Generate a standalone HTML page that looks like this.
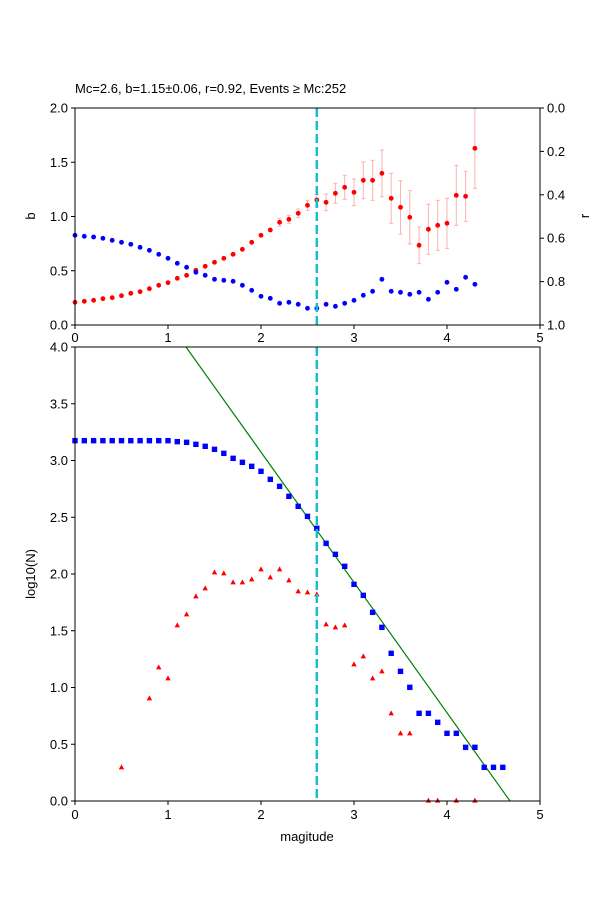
<!DOCTYPE html>
<html><head><style>body{margin:0;background:#fff}svg{font-family:"Liberation Sans","DejaVu Sans",sans-serif}</style></head>
<body>
<svg id="s" width="600" height="900" xmlns="http://www.w3.org/2000/svg">
<rect width="600" height="900" fill="#fff"/>
<text x="75" y="93" font-size="13">Mc=2.6, b=1.15±0.06, r=0.92, Events ≥ Mc:252</text>
<g id="top"></g><g id="bot"></g>
<g font-size="13" fill="#000">
<text transform="translate(35,216) rotate(-90)" text-anchor="middle">b</text>
<text transform="translate(589,216) rotate(-90)" text-anchor="middle">r</text>
<text transform="translate(35,574) rotate(-90)" text-anchor="middle">log10(N)</text>
<text x="307" y="841" text-anchor="middle">magitude</text>
</g>
</svg>
<script>
const NS="http://www.w3.org/2000/svg";
function el(p,t,a,txt){const e=document.createElementNS(NS,t);for(const k in a)e.setAttribute(k,a[k]);if(txt!==undefined)e.textContent=txt;p.appendChild(e);return e;}
const T=document.getElementById('top'),B=document.getElementById('bot');
const X=m=>75+93*m;
// top
const red=[607,604,601,596,593,587,580,575,566,556,548,535,526,511,499,487,475,463,448,427,406,390,367,358,340,316,300,307,280,262,277,241,241,220,295,322,352,436,388,376,370,286,289,145];
const blue=[406,409,411,415,421,427,433,442,451,463,475,490,502,517,526,538,541,544,556,571,589,595,610,607,613,625,625,613,619,610,601,586,574,538,574,577,583,577,598,577,547,568,532,553];
const err={22:12,23:12,24:13,25:15,26:17,27:25,28:30,29:36,30:40,31:55,32:60,33:70,34:75,35:80,36:80,37:55,38:75,39:75,40:75,41:90,42:75,43:120};
for(const k in err){const i=+k,y=100+red[i]/3,h=err[k]/3;const y1=Math.max(108,y-h);
el(T,'line',{x1:X(i/10),x2:X(i/10),y1:y1,y2:y+h,stroke:'#ffb0b0','stroke-width':1});
el(T,'line',{x1:X(i/10)-2,x2:X(i/10)+2,y1:y1,y2:y1,stroke:'#ffb0b0','stroke-width':1});
el(T,'line',{x1:X(i/10)-2,x2:X(i/10)+2,y1:y+h,y2:y+h,stroke:'#ffb0b0','stroke-width':1});}
red.forEach((v,i)=>el(T,'circle',{cx:X(i/10),cy:100+v/3,r:2.4,fill:'red'}));
blue.forEach((v,i)=>el(T,'circle',{cx:X(i/10),cy:100+v/3,r:2.4,fill:'blue'}));
el(T,'line',{x1:X(2.6),x2:X(2.6),y1:108,y2:325,stroke:'#17becf','stroke-width':2.5,'stroke-dasharray':'9,4'});
el(T,'rect',{x:75,y:108,width:465,height:217,fill:'none',stroke:'#000','stroke-width':1});
for(let i=0;i<=5;i++){el(T,'line',{x1:X(i),x2:X(i),y1:325,y2:329,stroke:'#000'});el(T,'text',{x:X(i),y:342,'font-size':13,'text-anchor':'middle'},String(i));}
['0.0','0.5','1.0','1.5','2.0'].forEach((s,i)=>{const y=325-i*54.25;el(T,'line',{x1:71,x2:75,y1:y,y2:y,stroke:'#000'});el(T,'text',{x:68,y:y+4.5,'font-size':13,'text-anchor':'end'},s);});
['0.0','0.2','0.4','0.6','0.8','1.0'].forEach((s,i)=>{const y=108+i*43.4;el(T,'line',{x1:540,x2:544,y1:y,y2:y,stroke:'#000'});el(T,'text',{x:547,y:y+4.5,'font-size':13},s);});
// bottom
const bs=[62,62,62,62,62,62,62,62,62,62,62,65,67,73,79,88,100,115,127,139,154,178,199,229,259,289,325,370,403,439,493,526,577,622,700,754,802,880,880,907,940,940,982,982,1042,1042,1042];
const tri={5:1042,8:835,9:742,10:775,11:616,12:583,13:529,14:505,15:457,16:460,17:487,18:487,19:478,20:448,21:472,22:448,23:481,24:514,25:517,26:523,27:613,28:622,29:616,30:733,31:709,32:775,33:754,34:880,35:940,36:940,38:1142,39:1142,41:1142,43:1142};
el(B,'line',{x1:186,y1:347,x2:510,y2:801,stroke:'green','stroke-width':1.2});
bs.forEach((v,i)=>el(B,'rect',{x:X(i/10)-2.7,y:420+v/3-2.7,width:5.4,height:5.4,fill:'blue'}));
for(const k in tri){const x=X(k/10),y=420+tri[k]/3;el(B,'polygon',{points:`${x},${y-3} ${x-2.7},${y+2} ${x+2.7},${y+2}`,fill:'red'});}
el(B,'line',{x1:X(2.6),x2:X(2.6),y1:347,y2:801,stroke:'#17becf','stroke-width':2.5,'stroke-dasharray':'9,4'});
el(B,'rect',{x:75,y:347,width:465,height:454,fill:'none',stroke:'#000','stroke-width':1});
for(let i=0;i<=5;i++){el(B,'line',{x1:X(i),x2:X(i),y1:801,y2:805,stroke:'#000'});el(B,'text',{x:X(i),y:819,'font-size':13,'text-anchor':'middle'},String(i));}
for(let i=0;i<=8;i++){const y=801-i*56.75;el(B,'line',{x1:71,x2:75,y1:y,y2:y,stroke:'#000'});el(B,'text',{x:68,y:y+4.5,'font-size':13,'text-anchor':'end'},(i/2).toFixed(1));}
</script>
</body></html>
